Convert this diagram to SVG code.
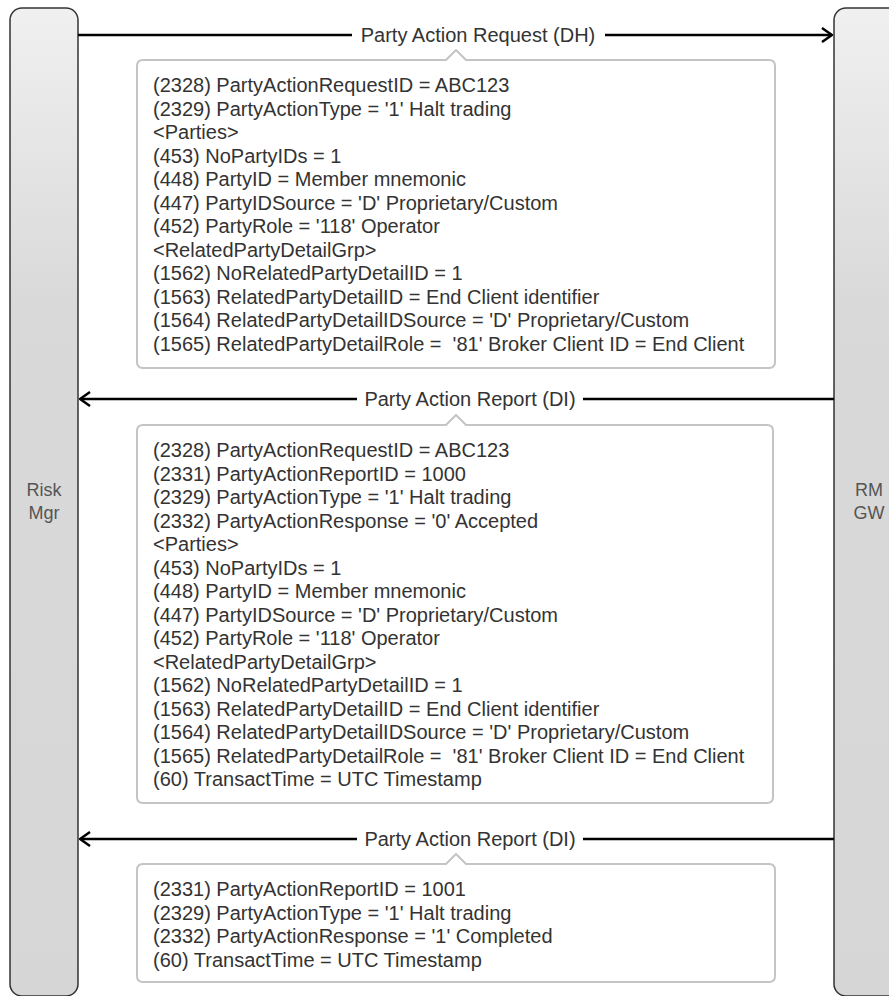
<svg xmlns="http://www.w3.org/2000/svg" width="889" height="996" viewBox="0 0 889 996">
<style>
.lane{stroke:#333;stroke-width:1.5;fill:url(#lg)}
.lt{font-family:"Liberation Sans",Arial,sans-serif;font-size:18px;fill:#555;text-anchor:middle}
.box{fill:#fff;stroke:#c4c4c4;stroke-width:2;stroke-linejoin:round}
.bt{font-family:"Liberation Sans",Arial,sans-serif;font-size:20px;fill:#333;white-space:pre}
.msg{stroke:#000;stroke-width:2.5;fill:none}
.ml{font-family:"Liberation Sans",Arial,sans-serif;font-size:20px;fill:#333;text-anchor:middle}
</style>
<defs>
<linearGradient id="lg" x1="0" y1="0" x2="0" y2="1">
<stop offset="0" stop-color="#f0f0f0"/>
<stop offset="0.3" stop-color="#d9d9d9"/>
<stop offset="1" stop-color="#d6d6d6"/>
</linearGradient>
<marker id="ah" viewBox="0 0 12 16" refX="11" refY="8" markerWidth="12" markerHeight="16" markerUnits="userSpaceOnUse" orient="auto">
<path d="M1,1 L11,8 L1,15" fill="none" stroke="#000" stroke-width="2.5"/>
</marker>
</defs>
<g id="risk-mgr">
<rect class="lane" x="10" y="8" width="68" height="988" rx="12"/>
<text class="lt" x="44" y="496">Risk</text>
<text class="lt" x="44" y="519">Mgr</text>
</g>
<g id="rm-gw">
<rect class="lane" x="834" y="8" width="68" height="988" rx="12"/>
<text class="lt" x="869" y="496">RM</text>
<text class="lt" x="869" y="519">GW</text>
</g>
<g id="connectors">
<line class="msg" x1="78" y1="35" x2="832" y2="35" marker-end="url(#ah)"/>
<rect x="352" y="24" width="253" height="24" fill="#fff"/>
<text class="ml" x="478" y="42">Party Action Request (DH)</text>
<line class="msg" x1="834" y1="399" x2="80" y2="399" marker-end="url(#ah)"/>
<rect x="357" y="388" width="226" height="24" fill="#fff"/>
<text class="ml" x="470" y="406">Party Action Report (DI)</text>
<line class="msg" x1="834" y1="839" x2="80" y2="839" marker-end="url(#ah)"/>
<rect x="357" y="828" width="226" height="24" fill="#fff"/>
<text class="ml" x="470" y="846">Party Action Report (DI)</text>
</g>
<g id="note1">
<path class="box" d="M143,60 H446 L456,50 L466,60 H769 Q775,60 775,66 V362 Q775,368 769,368 H143 Q137,368 137,362 V66 Q137,60 143,60 Z"/>
<text class="bt" x="153" y="92">(2328) PartyActionRequestID = ABC123</text>
<text class="bt" x="153" y="115.5">(2329) PartyActionType = '1' Halt trading</text>
<text class="bt" x="153" y="139">&lt;Parties&gt;</text>
<text class="bt" x="153" y="162.5">(453) NoPartyIDs = 1</text>
<text class="bt" x="153" y="186">(448) PartyID = Member mnemonic</text>
<text class="bt" x="153" y="209.5">(447) PartyIDSource = 'D' Proprietary/Custom</text>
<text class="bt" x="153" y="233">(452) PartyRole = '118' Operator</text>
<text class="bt" x="153" y="256.5">&lt;RelatedPartyDetailGrp&gt;</text>
<text class="bt" x="153" y="280">(1562) NoRelatedPartyDetailID = 1</text>
<text class="bt" x="153" y="303.5">(1563) RelatedPartyDetailID = End Client identifier</text>
<text class="bt" x="153" y="327">(1564) RelatedPartyDetailIDSource = 'D' Proprietary/Custom</text>
<text class="bt" x="153" y="350.5">(1565) RelatedPartyDetailRole =  '81' Broker Client ID = End Client</text>
</g>
<g id="note2">
<path class="box" d="M143,425 H446 L456,415 L466,425 H767 Q773,425 773,431 V797 Q773,803 767,803 H143 Q137,803 137,797 V431 Q137,425 143,425 Z"/>
<text class="bt" x="153" y="457">(2328) PartyActionRequestID = ABC123</text>
<text class="bt" x="153" y="480.5">(2331) PartyActionReportID = 1000</text>
<text class="bt" x="153" y="504">(2329) PartyActionType = '1' Halt trading</text>
<text class="bt" x="153" y="527.5">(2332) PartyActionResponse = '0' Accepted</text>
<text class="bt" x="153" y="551">&lt;Parties&gt;</text>
<text class="bt" x="153" y="574.5">(453) NoPartyIDs = 1</text>
<text class="bt" x="153" y="598">(448) PartyID = Member mnemonic</text>
<text class="bt" x="153" y="621.5">(447) PartyIDSource = 'D' Proprietary/Custom</text>
<text class="bt" x="153" y="645">(452) PartyRole = '118' Operator</text>
<text class="bt" x="153" y="668.5">&lt;RelatedPartyDetailGrp&gt;</text>
<text class="bt" x="153" y="692">(1562) NoRelatedPartyDetailID = 1</text>
<text class="bt" x="153" y="715.5">(1563) RelatedPartyDetailID = End Client identifier</text>
<text class="bt" x="153" y="739">(1564) RelatedPartyDetailIDSource = 'D' Proprietary/Custom</text>
<text class="bt" x="153" y="762.5">(1565) RelatedPartyDetailRole =  '81' Broker Client ID = End Client</text>
<text class="bt" x="153" y="786">(60) TransactTime = UTC Timestamp</text>
</g>
<g id="note3">
<path class="box" d="M143,864 H446 L456,854 L466,864 H769 Q775,864 775,870 V976 Q775,982 769,982 H143 Q137,982 137,976 V870 Q137,864 143,864 Z"/>
<text class="bt" x="153" y="896">(2331) PartyActionReportID = 1001</text>
<text class="bt" x="153" y="919.5">(2329) PartyActionType = '1' Halt trading</text>
<text class="bt" x="153" y="943">(2332) PartyActionResponse = '1' Completed</text>
<text class="bt" x="153" y="966.5">(60) TransactTime = UTC Timestamp</text>
</g>
</svg>
